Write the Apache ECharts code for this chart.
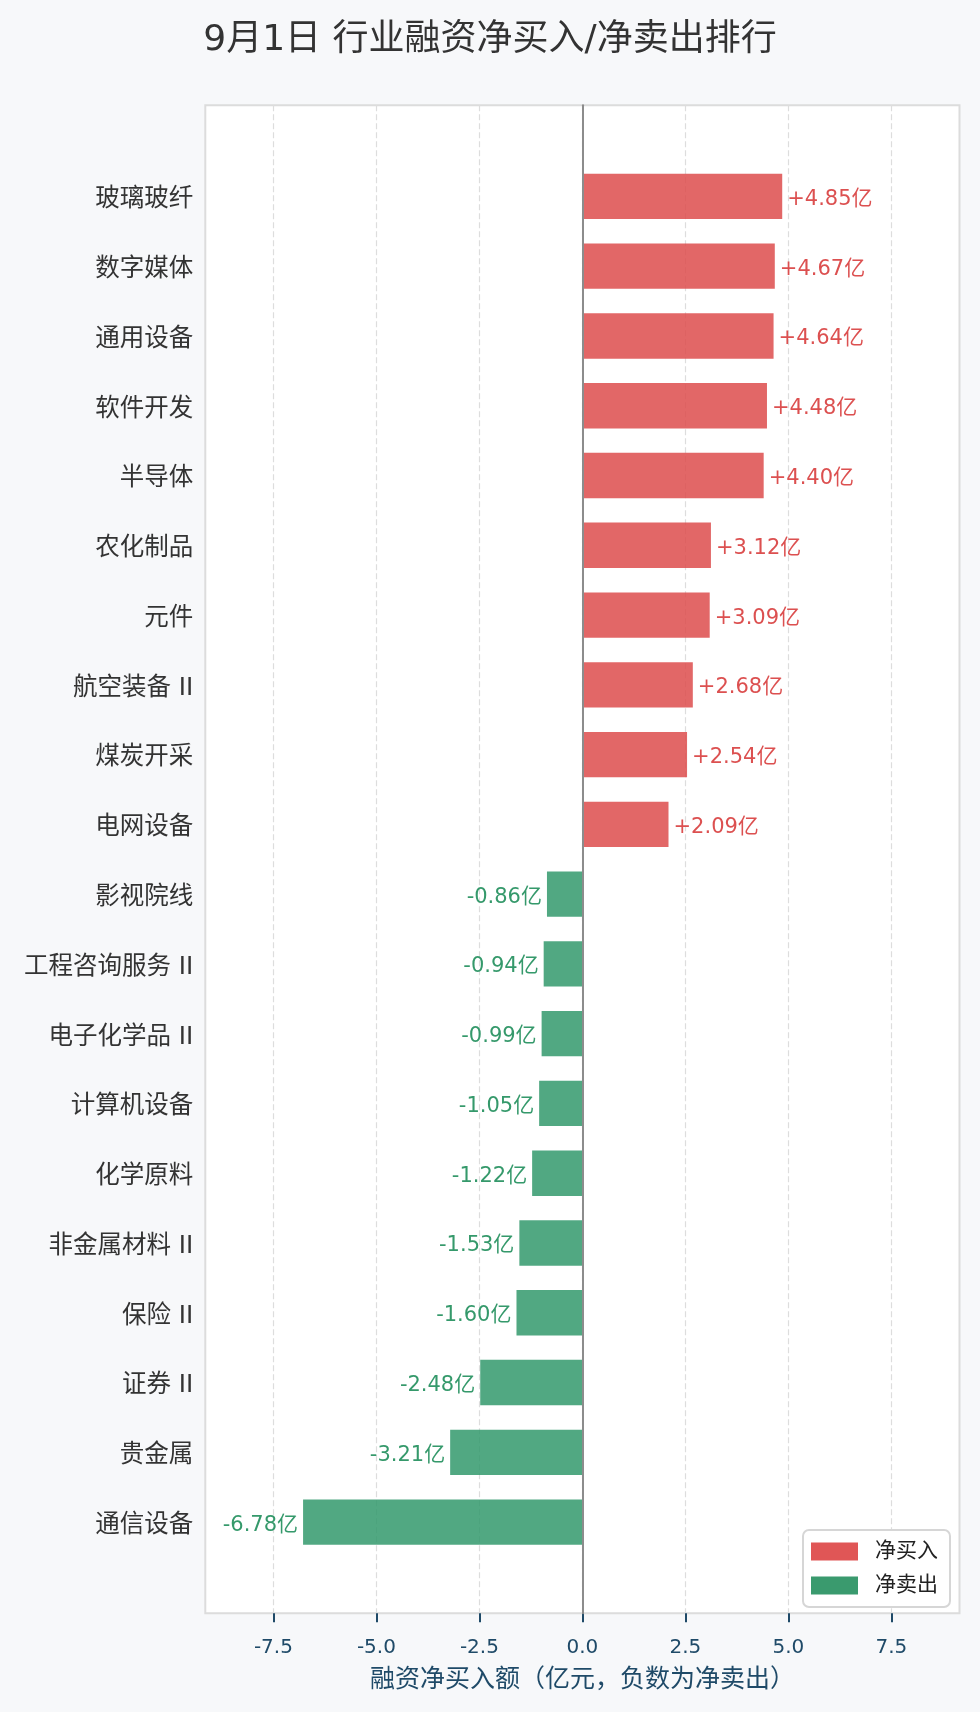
<!DOCTYPE html>
<html>
<head>
<meta charset="utf-8">
<script src="https://cdn.jsdelivr.net/npm/echarts@6/dist/echarts.min.js"></script>
<style>
html,body{margin:0;padding:0;background:#f7f8fa;}
#main{width:980px;height:1712px;}
</style>
</head>
<body>
<div id="main"></div>
<script>
// ---- data ----
const categories = ['玻璃玻纤','数字媒体','通用设备','软件开发','半导体','农化制品','元件','航空装备 II','煤炭开采','电网设备','影视院线','工程咨询服务 II','电子化学品 II','计算机设备','化学原料','非金属材料 II','保险 II','证券 II','贵金属','通信设备'];
const values = [4.85,4.67,4.64,4.48,4.40,3.12,3.09,2.68,2.54,2.09,-0.86,-0.94,-0.99,-1.05,-1.22,-1.53,-1.60,-2.48,-3.21,-6.78];
const tickValues = [-7.5,-5.0,-2.5,0.0,2.5,5.0,7.5];
const seriesNames = ['净买入','净卖出'];
const titleText = '9月1日 行业融资净买入/净卖出排行';
const axisNameText = '融资净买入额（亿元，负数为净卖出）';

// ---- layout ----
const W = 980, H = 1712;
const plotL = 205.3, plotR = 959.5, plotT = 105.2, plotB = 1613.3;
const xMax = Math.max(...values.map(Math.abs)) * 1.35;
const ppu = (plotR - plotL) / (2 * xMax);
const x0 = (plotL + plotR) / 2;
const n = categories.length;
const barH = 0.65;
const yLo = -barH/2 - 0.05*((n-1)+barH), yHi = (n-1) + barH/2 + 0.05*((n-1)+barH);
const unit = (plotB - plotT) / (yHi - yLo);
const inset = (-yLo - 0.5) * unit;
const tickMin = tickValues[0], tickMax = tickValues[tickValues.length-1];
const tickL = x0 + tickMin * ppu, tickR = x0 + tickMax * ppu;

const FONT = "'DejaVu Sans','Noto Sans CJK SC',sans-serif";
const RED = 'rgba(221,76,76,0.85)', GREEN = 'rgba(51,153,108,0.85)';
const AXIS_BLUE = '#1f4a68';

const chart = echarts.init(document.getElementById('main'), null, {renderer:'canvas'});
const pos = values.map(v => v > 0 ? v : '-');
const neg = values.map(v => v < 0 ? v : '-');

chart.setOption({
  backgroundColor: '#f7f8fa',
  textStyle: {fontFamily: FONT},
  title: {
    text: titleText, left: 'center', top: 18,
    textStyle: {fontFamily: FONT, fontSize: 36, fontWeight: 'normal', color: '#333'}
  },
  legend: {
    orient: 'vertical', left: 803, top: 1530,
    padding: [11, 12, 11, 8], itemGap: 13,
    itemWidth: 47, itemHeight: 18, icon: 'rect',
    backgroundColor: '#fff', borderColor: '#d6d6d6', borderWidth: 2, borderRadius: 6,
    textStyle: {fontFamily: FONT, fontSize: 21, color: '#222', padding: [0,0,0,12]},
    data: [
      {name: seriesNames[0], itemStyle: {color: '#e05656', opacity: 1}},
      {name: seriesNames[1], itemStyle: {color: '#3a9a6e', opacity: 1}}
    ]
  },
  grid: [
    {left: plotL, right: W - plotR, top: plotT, bottom: H - plotB, show: true,
     backgroundColor: '#ffffff', borderColor: '#dcdcdc', borderWidth: 2},
    {left: tickL, right: W - tickR, top: plotT, bottom: H - plotB},
    {left: plotL, right: W - plotR, top: plotT + inset, bottom: H - plotB + inset}
  ],
  xAxis: [
    {gridIndex: 0, type: 'value', min: -xMax, max: xMax,
     axisLine: {show: false}, axisTick: {show: false}, axisLabel: {show: false}, splitLine: {show: false}},
    {gridIndex: 1, type: 'value', min: tickMin, max: tickMax, interval: 2.5,
     axisLine: {show: false},
     axisTick: {show: true, length: 9, lineStyle: {color: AXIS_BLUE, width: 2}},
     axisLabel: {show: true, margin: 24, fontSize: 20, color: AXIS_BLUE, fontFamily: FONT,
                 formatter: v => v.toFixed(1)},
     splitLine: {show: true, lineStyle: {color: '#dddddd', width: 1.2, type: [6, 3]}},
     name: axisNameText, nameLocation: 'middle', nameGap: 55,
     nameTextStyle: {fontSize: 25, color: AXIS_BLUE, fontFamily: FONT}},
    {gridIndex: 2, type: 'value', min: -xMax, max: xMax,
     axisLine: {show: false}, axisTick: {show: false}, axisLabel: {show: false}, splitLine: {show: false}}
  ],
  yAxis: [
    {gridIndex: 0, type: 'value', min: 0, max: 1, z: 5,
     axisLine: {show: true, onZero: true, lineStyle: {color: '#8c8c8c', width: 2}},
     axisTick: {show: false}, axisLabel: {show: false}, splitLine: {show: false}},
    {gridIndex: 1, type: 'value', min: 0, max: 1, show: false},
    {gridIndex: 2, type: 'category', data: categories, inverse: true,
     axisLine: {show: false}, axisTick: {show: false}, splitLine: {show: false},
     axisLabel: {margin: 12, fontSize: 24.5, color: '#333', fontFamily: FONT,
                 verticalAlign: 'top', lineHeight: 7}}
  ],
  series: [
    {name: seriesNames[0], type: 'bar', xAxisIndex: 2, yAxisIndex: 2, data: pos,
     barWidth: (barH*100)+'%', barGap: '-100%',
     itemStyle: {color: RED},
     label: {show: true, position: 'right', distance: 5, fontSize: 21, color: '#dc5050', fontFamily: FONT,
             offset: [0, 3],
             formatter: p => '+' + p.value.toFixed(2) + '亿'}},
    {name: seriesNames[1], type: 'bar', xAxisIndex: 2, yAxisIndex: 2, data: neg,
     barWidth: (barH*100)+'%', barGap: '-100%',
     itemStyle: {color: GREEN},
     label: {show: true, position: 'left', distance: 5, fontSize: 21, color: '#35996b', fontFamily: FONT,
             offset: [0, 3],
             formatter: p => p.value.toFixed(2) + '亿'}}
  ]
});
</script>
</body>
</html>
